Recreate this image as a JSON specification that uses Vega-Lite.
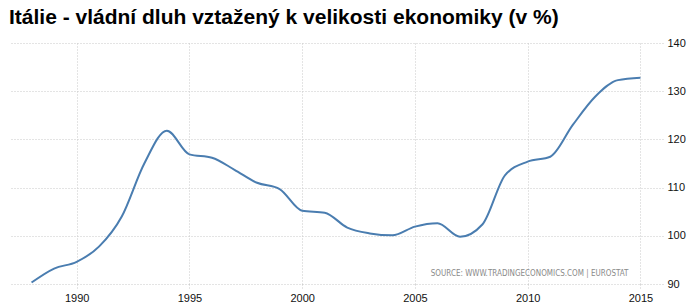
{
  "$schema": "https://vega.github.io/schema/vega-lite/v6.json",
  "autosize": {"type": "none"},
  "padding": {"left": 9, "top": 43, "right": 30, "bottom": 21},
  "width": 654,
  "height": 241,
  "background": "white",
  "title": {
    "text": "Itálie - vládní dluh vztažený k velikosti ekonomiky (v %)",
    "anchor": "start",
    "frame": "group",
    "font": "Liberation Sans",
    "fontSize": 21,
    "fontWeight": "bold",
    "color": "#000000",
    "baseline": "alphabetic",
    "offset": -8
  },
  "config": {
    "view": {"stroke": null},
    "axis": {
      "labelFont": "Liberation Sans",
      "labelFontSize": 11,
      "labelColor": "#111111",
      "gridColor": "#c8c8c8",
      "gridDash": [1, 2],
      "gridWidth": 1,
      "gridOpacity": 1
    }
  },
  "data": {
    "values": [
      {"year": 1988, "debt": 90.3},
      {"year": 1989, "debt": 93.2},
      {"year": 1990, "debt": 94.6},
      {"year": 1991, "debt": 97.8},
      {"year": 1992, "debt": 104.0},
      {"year": 1993, "debt": 115.0},
      {"year": 1994, "debt": 121.8},
      {"year": 1995, "debt": 116.9},
      {"year": 1996, "debt": 116.2},
      {"year": 1997, "debt": 113.7},
      {"year": 1998, "debt": 111.0},
      {"year": 1999, "debt": 109.7},
      {"year": 2000, "debt": 105.2},
      {"year": 2001, "debt": 104.8},
      {"year": 2002, "debt": 101.7},
      {"year": 2003, "debt": 100.5},
      {"year": 2004, "debt": 100.1},
      {"year": 2005, "debt": 101.9},
      {"year": 2006, "debt": 102.6},
      {"year": 2007, "debt": 99.8},
      {"year": 2008, "debt": 102.4},
      {"year": 2009, "debt": 112.6},
      {"year": 2010, "debt": 115.4},
      {"year": 2011, "debt": 116.4},
      {"year": 2012, "debt": 123.0},
      {"year": 2013, "debt": 128.9},
      {"year": 2014, "debt": 132.3},
      {"year": 2015, "debt": 132.8}
    ]
  },
  "layer": [
    {
      "mark": {"type": "line", "interpolate": "monotone", "color": "#4a7db0", "strokeWidth": 2},
      "encoding": {
        "x": {
          "field": "year",
          "type": "quantitative",
          "scale": {"domain": [1987, 2016], "nice": false, "zero": false},
          "axis": {
            "title": null,
            "values": [1990, 1995, 2000, 2005, 2010, 2015],
            "format": "d",
            "domain": false,
            "ticks": true,
            "tickSize": 4,
            "tickColor": "#c8c8c8",
            "tickDash": [1, 2],
            "labelPadding": 4,
            "labelFlush": false,
            "grid": true
          }
        },
        "y": {
          "field": "debt",
          "type": "quantitative",
          "scale": {"domain": [90, 140], "nice": false, "zero": false},
          "axis": {
            "title": null,
            "orient": "right",
            "values": [90, 100, 110, 120, 130, 140],
            "domain": false,
            "ticks": false,
            "labelPadding": 4,
            "labelBaseline": "middle",
            "grid": true
          }
        }
      }
    },
    {
      "data": {"values": [{"year": 2015, "debt": 92, "label": "SOURCE: WWW.TRADINGECONOMICS.COM | EUROSTAT"}]},
      "mark": {"type": "text", "align": "right", "baseline": "middle", "dx": -12, "font": "DejaVu Sans Condensed, Liberation Sans", "fontSize": 8, "color": "#8a8a8a"},
      "encoding": {
        "x": {"field": "year", "type": "quantitative"},
        "y": {"field": "debt", "type": "quantitative"},
        "text": {"field": "label"}
      }
    }
  ]
}
